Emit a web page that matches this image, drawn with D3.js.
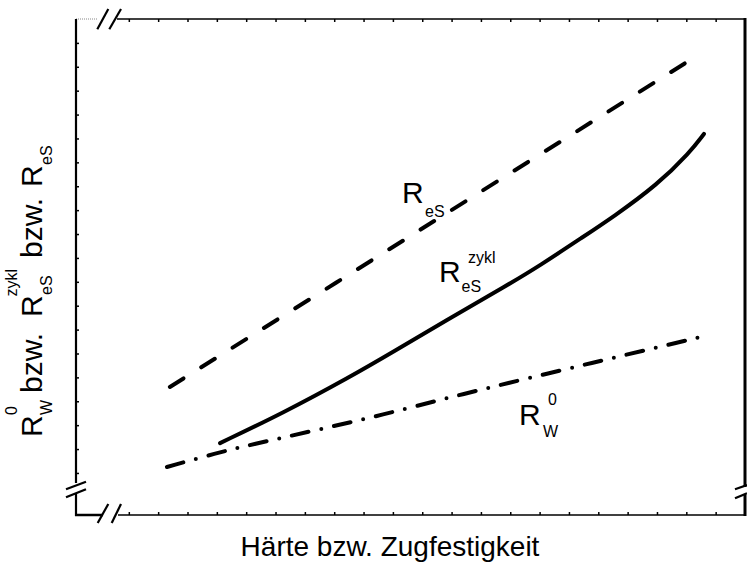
<!DOCTYPE html>
<html>
<head>
<meta charset="utf-8">
<script src="https://cdn.jsdelivr.net/npm/d3@7"></script>
<style>
  body { margin: 0; background: #fff; }
  svg { display: block; }
  text { font-family: "Liberation Sans", Arial, Helvetica, sans-serif; fill: #000; }
</style>
</head>
<body>
<svg id="chart" width="747" height="564"></svg>
<script>
// Qualitative diagram: strength values over hardness / tensile strength.
// Axes carry only unlabelled ticks, so the units below are arbitrary.
const xTicks = d3.range(1, 22);   // 21 ticks along top and bottom
const yTicks = d3.range(0, 19);   // 19 ticks along the left side

// R_eS (dashed, straight)
const resX = [2.40, 8.06, 20.05];
const resY = [3.60, 7.96, 17.22];

// R_eS^zykl (solid, slightly progressive)
const zyklX = [4.11, 6.26, 8.54, 10.00, 11.95, 13.89, 15.01, 16.48, 17.50, 19.00, 20.13, 20.60];
const zyklY = [1.25, 2.51, 4.02, 5.06, 6.49, 7.85, 8.68, 9.88, 10.71, 12.05, 13.43, 14.19];

// R_W^0 (dash-dot)
const rw0X = [2.30, 4.01, 5.13, 7.41, 9.66, 11.95, 17.06, 20.70];
const rw0Y = [0.25, 0.84, 1.17, 1.80, 2.43, 3.18, 4.69, 5.75];

const xTitle = "Härte bzw. Zugfestigkeit";

// ---- layout ----
const L = 76, R = 745, T = 19, B = 515;
const svg = d3.select("#chart");

const x = d3.scaleLinear().domain([-0.8, 22.0]).range([L, R]);
const y = d3.scaleLinear().domain([-1.76, 19.0]).range([B, T]);

const line = d3.line().x(d => x(d[0])).y(d => y(d[1]));
const zip = (a, b) => a.map((v, i) => [v, b[i]]);

// ---- ticks (no labels, no domain line) ----
function tickAxis(axis, tr) {
  const g = svg.append("g").attr("transform", tr).call(axis);
  g.select(".domain").remove();
  g.selectAll(".tick text").remove();
  g.selectAll(".tick line").attr("stroke", "#000").attr("stroke-width", 1.5);
  return g;
}
tickAxis(d3.axisTop(x).tickValues(xTicks).tickSize(3), `translate(0,${B})`);
tickAxis(d3.axisBottom(x).tickValues(xTicks).tickSize(3), `translate(0,${T})`);
tickAxis(d3.axisRight(y).tickValues(yTicks).tickSize(3), `translate(${L},0)`);

// ---- frame with axis breaks ----
const frame = svg.append("g").attr("stroke", "#000").attr("fill", "none");
// top edge: faint before the break, solid after
frame.append("line").attr("x1", L).attr("y1", T).attr("x2", 98).attr("y2", T)
  .attr("stroke", "#888").attr("stroke-width", 1).attr("stroke-dasharray", "1,1");
frame.append("line").attr("x1", 117).attr("y1", T).attr("x2", R).attr("y2", T).attr("stroke-width", 1.5);
// left edge
frame.append("line").attr("x1", L).attr("y1", T).attr("x2", L).attr("y2", 483).attr("stroke-width", 2.2);
frame.append("line").attr("x1", L).attr("y1", 494).attr("x2", L).attr("y2", B + 1).attr("stroke-width", 2.2);
// bottom edge
frame.append("line").attr("x1", L - 1).attr("y1", B).attr("x2", 103).attr("y2", B).attr("stroke-width", 2.5);
frame.append("line").attr("x1", 118).attr("y1", B).attr("x2", R).attr("y2", B).attr("stroke-width", 1.5);
// right edge
frame.append("line").attr("x1", R).attr("y1", T - 1).attr("x2", R).attr("y2", 487).attr("stroke-width", 3);
frame.append("line").attr("x1", R).attr("y1", 495).attr("x2", R).attr("y2", B + 1).attr("stroke-width", 3);

// break marks "//"
const breaks = [
  [97.3, 29.3, 108.3, 9], [109.3, 29.3, 121, 9],          // top
  [97.7, 523, 108.3, 504], [111.7, 523, 121, 504],        // bottom
  [66, 489.3, 86, 481.7], [66, 497.3, 86, 489.3],         // left
  [735, 489.3, 747, 485], [735, 498.3, 747, 493.3]        // right
];
frame.selectAll("line.brk").data(breaks).enter().append("line")
  .attr("class", "brk")
  .attr("x1", d => d[0]).attr("y1", d => d[1])
  .attr("x2", d => d[2]).attr("y2", d => d[3])
  .attr("stroke-width", 2.2);

// ---- curves ----
const curves = svg.append("g").attr("fill", "none").attr("stroke", "#000").attr("stroke-width", 4);
curves.append("path")
  .attr("d", line(zip(resX, resY)))
  .attr("stroke-dasharray", "16 21")
  .attr("stroke-linecap", "round");
curves.append("path")
  .attr("d", line.curve(d3.curveBasis)(zip(zyklX, zyklY)))
  .attr("stroke-linecap", "round");
curves.append("path")
  .attr("d", line.curve(d3.curveBasis)(zip(rw0X, rw0Y)))
  .attr("stroke-dasharray", "17 13 0 13")
  .attr("stroke-linecap", "round");

// ---- curve labels ----
const MAIN = 30, SMALL = 16;
function put(g, tx, ty, str, size) {
  g.append("text").attr("x", tx).attr("y", ty).attr("font-size", size).text(str);
}
const lab = svg.append("g");
// R_eS
put(lab, 402, 203, "R", MAIN);
put(lab, 425, 216.5, "eS", SMALL);
// R_eS^zykl
put(lab, 439, 281.5, "R", MAIN);
put(lab, 461.5, 291.5, "eS", SMALL);
put(lab, 468, 263, "zykl", SMALL);
// R_W^0
put(lab, 519, 425, "R", MAIN);
put(lab, 543, 437, "W", SMALL);
put(lab, 548, 405, "0", SMALL);

// ---- axis titles ----
svg.append("text")
  .attr("x", 390).attr("y", 556)
  .attr("text-anchor", "middle")
  .attr("font-size", 28)
  .text(xTitle);

// vertical title, reading bottom-to-top; screen (sx, sy) -> rotated (-sy, sx)
const yt = svg.append("g").attr("transform", "rotate(-90)");
function putV(sy, sx, str, size) { put(yt, -sy, sx, str, size); }
putV(437, 41.7, "R", MAIN);
putV(415, 51.5, "W", SMALL);
putV(415, 16.5, "0", SMALL);
putV(393, 41.7, "bzw.", MAIN);
putV(317, 41.7, "R", MAIN);
putV(295, 51.5, "eS", SMALL);
putV(296.5, 16.5, "zykl", SMALL);
putV(258, 41.7, "bzw.", MAIN);
putV(187, 41.7, "R", MAIN);
putV(165, 51.5, "eS", SMALL);
</script>
</body>
</html>
